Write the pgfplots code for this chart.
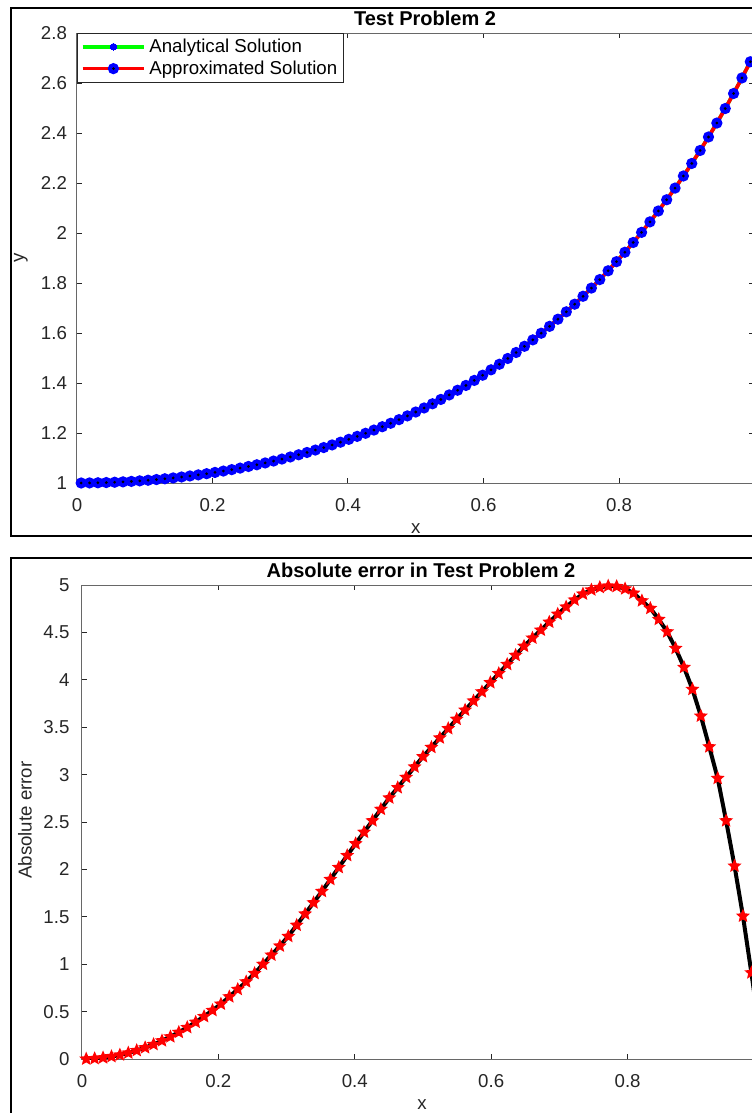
\documentclass[border=0pt]{standalone}
\usepackage{pgfplots}
\pgfplotsset{compat=1.18}
\usepackage{pgfplotstable}
\usepackage{fontspec}
\setmainfont{Liberation Sans}
\definecolor{axgray}{rgb}{0.15,0.15,0.15}
\definecolor{mgreen}{rgb}{0,1,0}

\pgfdeclareplotmark{bluedot}{%
  \pgfpathcircle{\pgfpointorigin}{\pgfplotmarksize}%
  \pgfsetfillcolor{blue}\pgfusepath{fill}%
  \pgfpathcircle{\pgfpointorigin}{0.27\pgfplotmarksize}%
  \pgfsetfillcolor{black}\pgfusepath{fill}}
\pgfdeclareplotmark{fstar}{%
  \pgfpathmoveto{\pgfpointpolar{90}{\pgfplotmarksize}}%
  \pgfpathlineto{\pgfpointpolar{126}{0.46\pgfplotmarksize}}%
  \pgfpathlineto{\pgfpointpolar{162}{\pgfplotmarksize}}%
  \pgfpathlineto{\pgfpointpolar{198}{0.46\pgfplotmarksize}}%
  \pgfpathlineto{\pgfpointpolar{234}{\pgfplotmarksize}}%
  \pgfpathlineto{\pgfpointpolar{270}{0.46\pgfplotmarksize}}%
  \pgfpathlineto{\pgfpointpolar{306}{\pgfplotmarksize}}%
  \pgfpathlineto{\pgfpointpolar{342}{0.46\pgfplotmarksize}}%
  \pgfpathlineto{\pgfpointpolar{18}{\pgfplotmarksize}}%
  \pgfpathlineto{\pgfpointpolar{54}{0.46\pgfplotmarksize}}%
  \pgfpathclose
  \pgfusepathqfill}

\pgfplotstableread{
x y
0.00617 1.00004
0.01852 1.00034
0.03086 1.00095
0.04321 1.00187
0.05556 1.00309
0.06790 1.00462
0.08025 1.00646
0.09259 1.00861
0.10494 1.01107
0.11728 1.01385
0.12963 1.01695
0.14198 1.02036
0.15432 1.02410
0.16667 1.02817
0.17901 1.03256
0.19136 1.03730
0.20370 1.04237
0.21605 1.04778
0.22840 1.05355
0.24074 1.05967
0.25309 1.06615
0.26543 1.07299
0.27778 1.08021
0.29012 1.08781
0.30247 1.09580
0.31481 1.10418
0.32716 1.11297
0.33951 1.12217
0.35185 1.13179
0.36420 1.14184
0.37654 1.15233
0.38889 1.16327
0.40123 1.17467
0.41358 1.18655
0.42593 1.19892
0.43827 1.21177
0.45062 1.22515
0.46296 1.23903
0.47531 1.25347
0.48765 1.26845
0.50000 1.28403
0.51235 1.30018
0.52469 1.31693
0.53704 1.33431
0.54938 1.35232
0.56173 1.37100
0.57407 1.39035
0.58642 1.41042
0.59877 1.43121
0.61111 1.45275
0.62346 1.47507
0.63580 1.49817
0.64815 1.52211
0.66049 1.54689
0.67284 1.57257
0.68519 1.59917
0.69753 1.62669
0.70988 1.65521
0.72222 1.68472
0.73457 1.71531
0.74691 1.74695
0.75926 1.77975
0.77160 1.81369
0.78395 1.84887
0.79630 1.88530
0.80864 1.92301
0.82099 1.96210
0.83333 2.00258
0.84568 2.04453
0.85802 2.08797
0.87037 2.13302
0.88272 2.17970
0.89506 2.22805
0.90741 2.27820
0.91975 2.33015
0.93210 2.38406
0.94444 2.43991
0.95679 2.49785
0.96914 2.55799
0.98148 2.62030
0.99383 2.68502
}\solution

\pgfplotstableread{
x e
0.00617 0.0005
0.01852 0.0048
0.03086 0.0133
0.04321 0.0261
0.05556 0.0432
0.06790 0.0645
0.08025 0.0902
0.09259 0.120
0.10494 0.154
0.11728 0.193
0.12963 0.235
0.14198 0.282
0.15432 0.333
0.16667 0.389
0.17901 0.449
0.19136 0.513
0.20370 0.580
0.21605 0.657
0.22840 0.735
0.24074 0.815
0.25309 0.903
0.26543 1.000
0.27778 1.097
0.29012 1.193
0.30247 1.294
0.31481 1.412
0.32716 1.531
0.33951 1.649
0.35185 1.769
0.36420 1.895
0.37654 2.021
0.38889 2.147
0.40123 2.272
0.41358 2.393
0.42593 2.514
0.43827 2.635
0.45062 2.755
0.46296 2.863
0.47531 2.972
0.48765 3.082
0.50000 3.190
0.51235 3.288
0.52469 3.388
0.53704 3.486
0.54938 3.585
0.56173 3.681
0.57407 3.778
0.58642 3.874
0.59877 3.971
0.61111 4.067
0.62346 4.163
0.63580 4.259
0.64815 4.355
0.66049 4.441
0.67284 4.525
0.68519 4.609
0.69753 4.693
0.70988 4.769
0.72222 4.843
0.73457 4.906
0.74691 4.949
0.75926 4.975
0.77160 4.990
0.78395 4.985
0.79630 4.960
0.80864 4.915
0.82099 4.834
0.83333 4.754
0.84568 4.638
0.85802 4.507
0.87037 4.332
0.88272 4.132
0.89506 3.900
0.90741 3.618
0.91975 3.294
0.93210 2.961
0.94444 2.514
0.95679 2.036
0.96914 1.508
0.98148 0.910
0.99383 0.280
}\abserror

\pgfplotsset{
  mlstyle/.style={
    scale only axis,
    axis line style={draw=axgray!70, line width=0.6pt},
    every tick/.style={draw=axgray, line width=0.6pt},
    major tick length=3pt,
    tick align=inside,
    tick label style={text=axgray, font=\fontsize{11.2}{13}\selectfont},
    xticklabel style={yshift=-5.5pt},
    /pgf/number format/assume math mode=true,
    /pgf/number format/fixed,
    /pgf/number format/precision=2,
    scaled ticks=false,
    label style={font=\fontsize{11.2}{13}\selectfont, text=axgray},
    title style={font=\bfseries\fontsize{12}{14}\selectfont, text=black, yshift=-6pt},
    clip=true,
  }
}

\begin{document}
\begin{tikzpicture}
% outer frames
\draw[line width=1.2pt] (6.6pt,-4.8pt) rectangle (480pt,-321.6pt);
\draw[line width=1.2pt] (6.6pt,-334.8pt) rectangle (480pt,-720pt);

\begin{axis}[mlstyle,
  at={(46.2pt,-289.8pt)}, anchor=south west,
  width=406.5pt, height=270pt,
  xmin=0, xmax=1, ymin=1, ymax=2.8,
  xtick={0,0.2,0.4,0.6,0.8,1},
  xticklabels={0,0.2,0.4,0.6,0.8,{}},
  ytick={1,1.2,1.4,1.6,1.8,2,2.2,2.4,2.6,2.8},
  yticklabel style={xshift=-2.5pt},
  xlabel={x}, ylabel={y},
  xlabel style={at={(axis description cs:0.5,-0.102)}, anchor=center},
  ylabel style={at={(axis description cs:-0.083,0.5)}, anchor=center},
  title={Test Problem 2},
  title style={at={(axis description cs:0.5137,1.033)}, anchor=center},
  legend style={at={(0,1)}, anchor=north west, draw=axgray, line width=0.5pt,
    font=\fontsize{11.2}{13}\selectfont, inner xsep=2pt, inner ysep=1.2pt,
    row sep=-0.5pt, cells={anchor=west}},
  legend image code/.code={\draw[#1, mark repeat=2, mark phase=2] plot coordinates {(0pt,0pt) (18.5pt,0pt) (37pt,0pt)};},
]
\addplot[mgreen, line width=2.2pt, mark=*, mark size=2pt, mark options={fill=blue, draw=blue, line width=0pt}] table[x=x,y=y] {\solution};
\addlegendentry{Analytical Solution}
\addplot[red, line width=2.2pt, mark=bluedot, mark size=3.4pt] table[x=x,y=y] {\solution};
\addlegendentry{Approximated Solution}
\end{axis}

\begin{axis}[mlstyle,
  at={(49.2pt,-635.4pt)}, anchor=south west,
  width=409.2pt, height=284.4pt,
  xmin=0, xmax=1, ymin=0, ymax=5,
  xtick={0,0.2,0.4,0.6,0.8,1},
  xticklabels={0,0.2,0.4,0.6,0.8,{}},
  ytick={0,0.5,1,1.5,2,2.5,3,3.5,4,4.5,5},
  yticklabel style={xshift=-4pt},
  xlabel={x}, ylabel={Absolute error},
  xlabel style={at={(axis description cs:0.4985,-0.097)}, anchor=center},
  ylabel style={at={(axis description cs:-0.0836,0.504)}, anchor=center},
  title={Absolute error in Test Problem 2},
  title style={at={(axis description cs:0.497,1.0316)}, anchor=center},
]
\addplot[black, line width=2.4pt, mark=fstar, mark size=4.4pt, mark options={fill=red, draw=none}] table[x=x,y=e] {\abserror};
\node[anchor=south west, inner sep=0pt, text=axgray!80, font=\fontsize{10.5}{12}\selectfont] at (axis description cs:0.002,1.014) {×10\textsuperscript{-6}};
\end{axis}

\pgfresetboundingbox
\useasboundingbox (0pt,0pt) rectangle (450.6pt,-667.8pt);
\end{tikzpicture}
\end{document}
